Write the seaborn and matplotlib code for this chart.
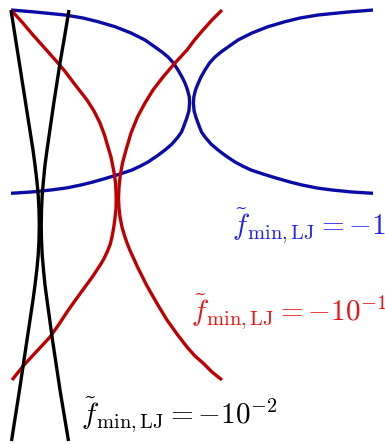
import seaborn as sns
import matplotlib.pyplot as plt

# branch coordinates (pixel units, y grows downwards)
blue_left_y = [10, 12, 15, 18, 21.7, 26.7, 33, 40, 47, 52, 57, 63, 70, 77, 83, 90, 97, 103,
               111, 118, 127, 132, 137, 144, 150, 156, 162, 166, 170, 174, 178, 182, 185, 188, 190, 192, 193.3]
blue_left_x = [11, 35, 65, 83, 98, 115, 131, 145, 155, 162, 168, 173.5, 178, 182, 185, 187.5, 189.3, 189.6,
               188.9, 186.8, 183.5, 181.5, 178, 172, 165, 157, 148, 140.5, 132, 120, 107, 93, 81, 66, 51, 31, 11]
blue_right_y = [10, 12, 15, 18, 21.7, 26.7, 33, 40, 47, 52, 57, 63, 70, 77, 83, 90, 97, 103,
                111, 118, 127, 132, 137, 144, 150, 156, 162, 166, 170, 174, 178, 182, 185, 188, 190, 192, 193.3]
blue_right_x = [373, 348, 318, 300, 285, 268, 252, 238, 228, 221, 215, 209.5, 205, 201, 198.3, 195.5, 193.8, 193.4,
                194.1, 196.2, 199.5, 201.5, 205, 211, 218, 226, 235, 242.5, 251, 263, 276, 290, 302, 317, 332, 352, 373]

red_left_y = [10, 22, 35, 49, 63, 72, 82, 91, 100, 111, 123, 135, 147, 157, 167, 175, 183, 191, 200,
              209, 218, 227, 237, 244, 250, 257, 263, 276, 289, 300, 312, 325, 337, 351, 365, 380]
red_left_x = [11, 22, 33, 45.5, 58, 65.5, 73, 80, 87, 94, 100, 104.5, 108, 111, 113, 114.5, 115.5, 116, 116.2,
              116, 115, 113.8, 112, 110.3, 108, 104.8, 101.5, 93, 83.5, 75.5, 67, 58.5, 50, 37, 24, 12]
red_right_y = [10, 20, 30, 40, 50, 63, 77, 90, 103, 117, 133, 150, 163, 175, 187, 198,
               208, 217, 227, 235, 243, 250, 257, 267, 277, 285, 293, 306, 320, 334, 347, 356, 363, 372, 380]
red_right_x = [222, 212, 203, 194.5, 187, 175, 163, 153, 145, 137.5, 131, 126, 122.5, 120.3, 119, 118.5,
               119, 120, 122, 124.3, 127, 129.8, 133, 137.5, 142.5, 146.5, 151, 158.5, 167, 177, 187, 195, 203, 212, 222]

black_left_y = [10, 45, 80, 115, 150, 165, 180, 195, 210, 225, 240, 255, 270, 285, 300, 340, 390, 441]
black_left_x = [11, 16.5, 22, 27.5, 33, 35, 36.8, 38.2, 39, 39.3, 39, 38.2, 36.8, 35, 33, 27, 19.5, 11.5]
black_right_y = [10, 40, 63, 105, 150, 165, 180, 195, 210, 225, 240, 255, 270, 285, 300, 340, 390, 441]
black_right_x = [69, 64, 60, 53.5, 47, 45, 43.5, 42.2, 41.5, 41.2, 41.5, 42.2, 43.5, 45, 47, 52.5, 60, 68.5]

labels = [r'$\tilde{f}_{\mathrm{min,LJ}}=-1$',
          r'$\tilde{f}_{\mathrm{min,LJ}}=-10^{-1}$',
          r'$\tilde{f}_{\mathrm{min,LJ}}=-10^{-2}$']

plt.rcParams['mathtext.fontset'] = 'cm'

fig = plt.figure(figsize=(3.85, 4.44), dpi=100)
ax = fig.add_axes([0, 0, 1, 1])

lw = 2.4
curves = [
    (blue_left_x, blue_left_y, '#0b0ba6'),
    (blue_right_x, blue_right_y, '#0b0ba6'),
    (red_left_x, red_left_y, '#c00000'),
    (red_right_x, red_right_y, '#c00000'),
    (black_left_x, black_left_y, 'black'),
    (black_right_x, black_right_y, 'black'),
]
for cx, cy, col in curves:
    sns.lineplot(x=cx, y=cy, sort=False, estimator=None, color=col, lw=lw,
                 solid_joinstyle='round', solid_capstyle='butt', ax=ax)

# the labels run past the right edge in the reference too
ax.text(232, 235, labels[0], color='#1f1fee', fontsize=21, va='baseline')
ax.text(191, 321, labels[1], color='#ee1111', fontsize=21, va='baseline')
ax.text(81, 424, labels[2], color='black', fontsize=21, va='baseline')

ax.set_xlim(0, 385)
ax.set_ylim(444, 0)
ax.axis('off')

fig.savefig('out.png', dpi=100)
